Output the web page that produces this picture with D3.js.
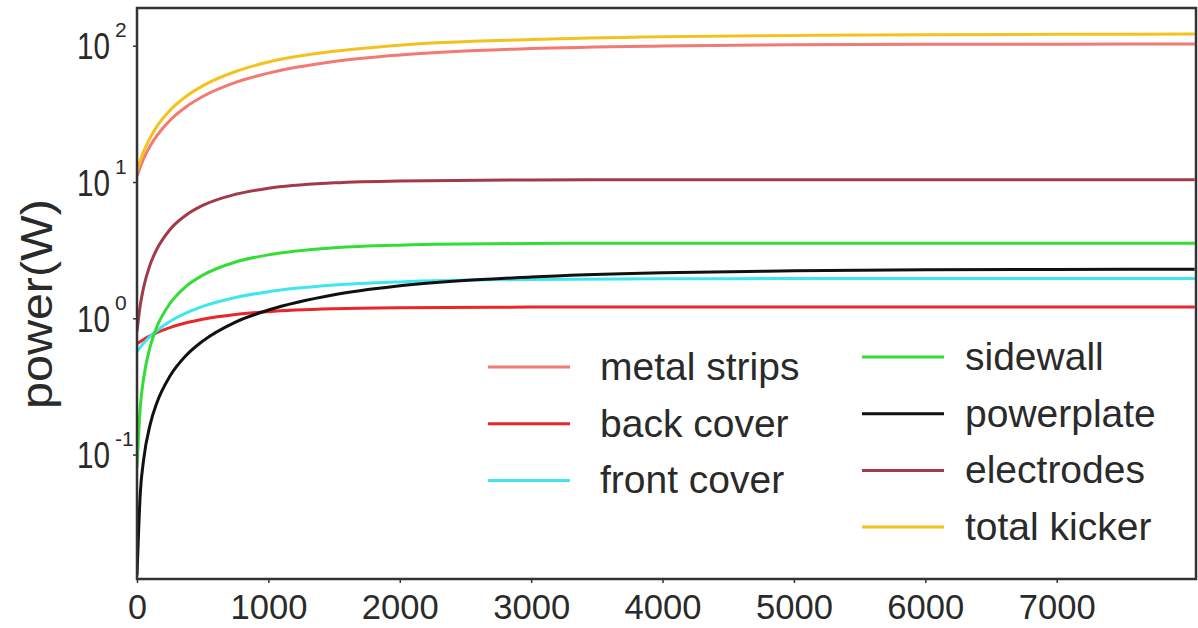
<!DOCTYPE html>
<html>
<head>
<meta charset="utf-8">
<script src="https://cdn.jsdelivr.net/npm/d3@7"></script>
<style>
  html, body { margin: 0; padding: 0; background: #fff; }
  svg { display: block; }
  text { font-family: "Liberation Sans", Arial, sans-serif; fill: #2a2a2a; }
</style>
</head>
<body>
<svg id="chart" width="1198" height="628"></svg>
<script>
// ---- data ----
const timeValues  = [0, 25, 50, 100, 150, 250, 375, 500, 750, 1000, 1500, 2000, 3000, 4000, 5000, 6000, 7000, 8050];
const metalStrips = [11, 12.9, 14.8, 18.4, 21.8, 28.3, 35.7, 42.4, 53.8, 63, 76.6, 85.6, 95.4, 99.7, 101.6, 102.4, 102.7, 103];
const backCover   = [0.65, 0.675, 0.7, 0.743, 0.784, 0.854, 0.927, 0.984, 1.067, 1.119, 1.174, 1.195, 1.208, 1.21, 1.21, 1.21, 1.21, 1.21];
const frontCover  = [0.57, 0.613, 0.655, 0.735, 0.81, 0.947, 1.095, 1.222, 1.422, 1.568, 1.752, 1.85, 1.93, 1.951, 1.957, 1.96, 1.96, 1.96];
const sidewall    = [0.08, 0.224, 0.36, 0.62, 0.86, 1.28, 1.72, 2.07, 2.59, 2.92, 3.29, 3.44, 3.54, 3.56, 3.56, 3.56, 3.56, 3.56];
const powerplate  = [0.013, 0.052, 0.091, 0.166, 0.238, 0.375, 0.535, 0.68, 0.938, 1.15, 1.49, 1.73, 2.01, 2.16, 2.23, 2.27, 2.285, 2.29];
const electrodes  = [0.8, 1.25, 1.68, 2.48, 3.2, 4.47, 5.73, 6.73, 8.13, 9.0, 9.86, 10.19, 10.37, 10.4, 10.4, 10.4, 10.4, 10.4];
const totalKicker = [12, 14.4, 16.7, 21.1, 25.5, 33.5, 42.6, 50.8, 64.7, 75.9, 91, 101, 111, 116.5, 119, 120.5, 121.3, 122];

const seriesNames  = ["metal strips", "back cover", "front cover", "sidewall", "powerplate", "electrodes", "total kicker"];
const seriesValues = [metalStrips, backCover, frontCover, sidewall, powerplate, electrodes, totalKicker];
const seriesColors = ["#f27a72", "#e8262b", "#3fe6f2", "#33dd33", "#111111", "#a33a48", "#f4c21c"];

const xTicks = [0, 1000, 2000, 3000, 4000, 5000, 6000, 7000];
const yTickExponents = [-1, 0, 1, 2];
const yTitle = "power(W)";

// ---- layout ----
const svg = d3.select("#chart");
const mLeft = 137, mRight = 1196, mTop = 8, mBottom = 579;

const x = d3.scaleLinear().domain([0, 8060]).range([mLeft, mRight]);
const y = d3.scaleLog().domain([Math.pow(10, -1.913), Math.pow(10, 2.277)]).range([mBottom, mTop]);

svg.append("defs").append("clipPath").attr("id", "plotclip")
  .append("rect").attr("x", mLeft).attr("y", mTop).attr("width", mRight - mLeft).attr("height", mBottom - mTop);

// lines
const line = d3.line().x(d => x(d[0])).y(d => y(d[1])).curve(d3.curveMonotoneX);
const drawOrder = [0, 1, 2, 3, 5, 6, 4];
const gLines = svg.append("g").attr("clip-path", "url(#plotclip)");
drawOrder.forEach(i => {
  const pts = timeValues.map((t, k) => [t, seriesValues[i][k]]);
  gLines.append("path")
    .attr("d", line(pts))
    .attr("fill", "none")
    .attr("stroke", seriesColors[i])
    .attr("stroke-width", 3)
    .attr("stroke-linejoin", "round");
});

// axes
const xAxis = d3.axisBottom(x).tickValues(xTicks).tickSize(4).tickFormat("");
const gx = svg.append("g").attr("transform", `translate(0,${mBottom})`).call(xAxis);
gx.select(".domain").remove();
gx.selectAll(".tick line").attr("stroke", "#333").attr("stroke-width", 1.5);
gx.selectAll(".tick").append("text")
  .attr("y", 40).attr("text-anchor", "middle")
  .attr("font-size", 35)
  .attr("textLength", d => d === 0 ? 19 : 77).attr("lengthAdjust", "spacingAndGlyphs")
  .text(d => String(d));

const yAxis = d3.axisLeft(y).tickValues(yTickExponents.map(e => Math.pow(10, e))).tickSize(4).tickFormat("");
const gy = svg.append("g").attr("transform", `translate(${mLeft},0)`).call(yAxis);
gy.select(".domain").remove();
gy.selectAll(".tick line").attr("stroke", "#333").attr("stroke-width", 1.5);
gy.selectAll(".tick").each(function(d) {
  const g = d3.select(this);
  const e = Math.round(Math.log10(d));
  g.append("text").attr("x", -27).attr("y", 13).attr("text-anchor", "end")
    .attr("font-size", 36).attr("textLength", 33).attr("lengthAdjust", "spacingAndGlyphs")
    .text("10");
  g.append("text").attr("x", -22).attr("y", -9).attr("text-anchor", "start")
    .attr("font-size", 21)
    .text(String(e));
});

// frame
svg.append("rect").attr("x", mLeft).attr("y", mTop).attr("width", mRight - mLeft).attr("height", mBottom - mTop)
  .attr("fill", "none").attr("stroke", "#333").attr("stroke-width", 2.5);

// y title
svg.append("text")
  .attr("transform", `translate(52,304) rotate(-90)`)
  .attr("text-anchor", "middle")
  .attr("font-size", 44)
  .attr("textLength", 210).attr("lengthAdjust", "spacingAndGlyphs")
  .text(yTitle);

// legend
const legendCols = [
  { idx: [0, 1, 2], lx: 488, tx: 600, y0: 367 },
  { idx: [3, 4, 5, 6], lx: 862, tx: 965, y0: 357 }
];
const gLeg = svg.append("g");
legendCols.forEach(col => {
  col.idx.forEach((i, r) => {
    const yy = col.y0 + r * 56.7;
    gLeg.append("line").attr("x1", col.lx).attr("x2", col.lx + 82).attr("y1", yy).attr("y2", yy)
      .attr("stroke", seriesColors[i]).attr("stroke-width", 3);
    gLeg.append("text").attr("x", col.tx).attr("y", yy + 13)
      .attr("font-size", 39)
      .text(seriesNames[i]);
  });
});
</script>
</body>
</html>
